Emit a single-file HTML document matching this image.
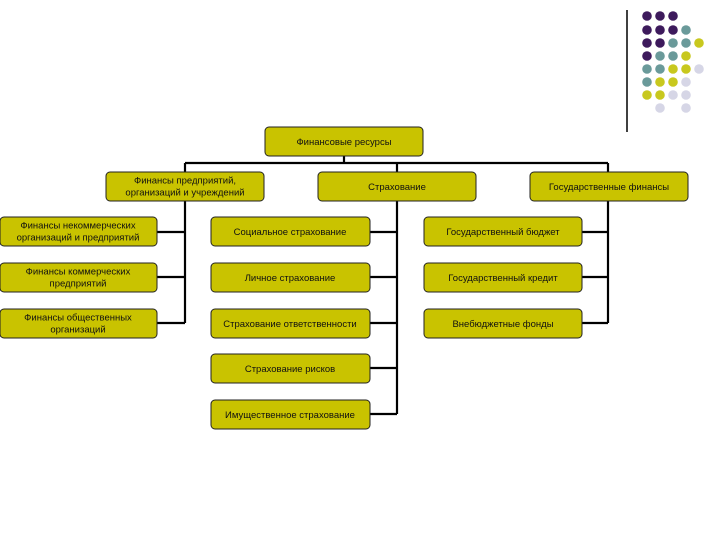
<!DOCTYPE html>
<html><head><meta charset="utf-8"><style>
html,body{margin:0;padding:0;background:#fff;}
svg{display:block}
text{font-family:"Liberation Sans","DejaVu Sans",sans-serif;font-size:9.5px;fill:#111;text-anchor:middle}
.b{fill:#c9c300;stroke:#222;stroke-width:1}
.l{stroke:#000;stroke-width:2.2;fill:none}
</style></head><body>
<svg width="720" height="540" viewBox="0 0 720 540">
<!-- decorative line and dots -->
<line x1="627" y1="10" x2="627" y2="132" stroke="#000" stroke-width="1.5"/>
<g>
<circle cx="647" cy="16" r="4.8" fill="#3d1a5c"/><circle cx="660" cy="16" r="4.8" fill="#3d1a5c"/><circle cx="673" cy="16" r="4.8" fill="#3d1a5c"/>
<circle cx="647" cy="30" r="4.8" fill="#3d1a5c"/><circle cx="660" cy="30" r="4.8" fill="#3d1a5c"/><circle cx="673" cy="30" r="4.8" fill="#3d1a5c"/><circle cx="686" cy="30" r="4.8" fill="#6a9a9a"/>
<circle cx="647" cy="43" r="4.8" fill="#3d1a5c"/><circle cx="660" cy="43" r="4.8" fill="#3d1a5c"/><circle cx="673" cy="43" r="4.8" fill="#6a9a9a"/><circle cx="686" cy="43" r="4.8" fill="#6a9a9a"/><circle cx="699" cy="43" r="4.8" fill="#c8c81e"/>
<circle cx="647" cy="56" r="4.8" fill="#3d1a5c"/><circle cx="660" cy="56" r="4.8" fill="#6a9a9a"/><circle cx="673" cy="56" r="4.8" fill="#6a9a9a"/><circle cx="686" cy="56" r="4.8" fill="#c8c81e"/>
<circle cx="647" cy="69" r="4.8" fill="#6a9a9a"/><circle cx="660" cy="69" r="4.8" fill="#6a9a9a"/><circle cx="673" cy="69" r="4.8" fill="#c8c81e"/><circle cx="686" cy="69" r="4.8" fill="#c8c81e"/><circle cx="699" cy="69" r="4.8" fill="#d6d6e6"/>
<circle cx="647" cy="82" r="4.8" fill="#6a9a9a"/><circle cx="660" cy="82" r="4.8" fill="#c8c81e"/><circle cx="673" cy="82" r="4.8" fill="#c8c81e"/><circle cx="686" cy="82" r="4.8" fill="#d6d6e6"/>
<circle cx="647" cy="95" r="4.8" fill="#c8c81e"/><circle cx="660" cy="95" r="4.8" fill="#c8c81e"/><circle cx="673" cy="95" r="4.8" fill="#d6d6e6"/><circle cx="686" cy="95" r="4.8" fill="#d6d6e6"/>
<circle cx="660" cy="108" r="4.8" fill="#d6d6e6"/><circle cx="686" cy="108" r="4.8" fill="#d6d6e6"/>
</g>
<!-- connectors -->
<path class="l" d="M344 156V163M185 163H608M185 163V172M397 163V172M608 163V172"/>
<path class="l" d="M185 201V323M157 232H185M157 277H185M157 323H185"/>
<path class="l" d="M397 201V414M370 232H397M370 277H397M370 323H397M370 368H397M370 414H397"/>
<path class="l" d="M608 201V323M582 232H608M582 277H608M582 323H608"/>
<!-- boxes -->
<rect class="b" x="265" y="127" width="158" height="29" rx="4"/><text x="344" y="145">Финансовые ресурсы</text>
<rect class="b" x="106" y="172" width="158" height="29" rx="4"/><text x="185" y="183.5">Финансы предприятий,</text><text x="185" y="195.5">организаций и учреждений</text>
<rect class="b" x="318" y="172" width="158" height="29" rx="4"/><text x="397" y="190">Страхование</text>
<rect class="b" x="530" y="172" width="158" height="29" rx="4"/><text x="609" y="190">Государственные финансы</text>

<rect class="b" x="0" y="217" width="157" height="29" rx="4"/><text x="78" y="228.5">Финансы некоммерческих</text><text x="78" y="240.5">организаций и предприятий</text>
<rect class="b" x="0" y="263" width="157" height="29" rx="4"/><text x="78" y="274.5">Финансы коммерческих</text><text x="78" y="286.5">предприятий</text>
<rect class="b" x="0" y="309" width="157" height="29" rx="4"/><text x="78" y="320.5">Финансы общественных</text><text x="78" y="332.5">организаций</text>

<rect class="b" x="211" y="217" width="159" height="29" rx="4"/><text x="290" y="235">Социальное страхование</text>
<rect class="b" x="211" y="263" width="159" height="29" rx="4"/><text x="290" y="281">Личное страхование</text>
<rect class="b" x="211" y="309" width="159" height="29" rx="4"/><text x="290" y="327">Страхование ответственности</text>
<rect class="b" x="211" y="354" width="159" height="29" rx="4"/><text x="290" y="372">Страхование рисков</text>
<rect class="b" x="211" y="400" width="159" height="29" rx="4"/><text x="290" y="418">Имущественное страхование</text>

<rect class="b" x="424" y="217" width="158" height="29" rx="4"/><text x="503" y="235">Государственный бюджет</text>
<rect class="b" x="424" y="263" width="158" height="29" rx="4"/><text x="503" y="281">Государственный кредит</text>
<rect class="b" x="424" y="309" width="158" height="29" rx="4"/><text x="503" y="327">Внебюджетные фонды</text>
</svg>
</body></html>
